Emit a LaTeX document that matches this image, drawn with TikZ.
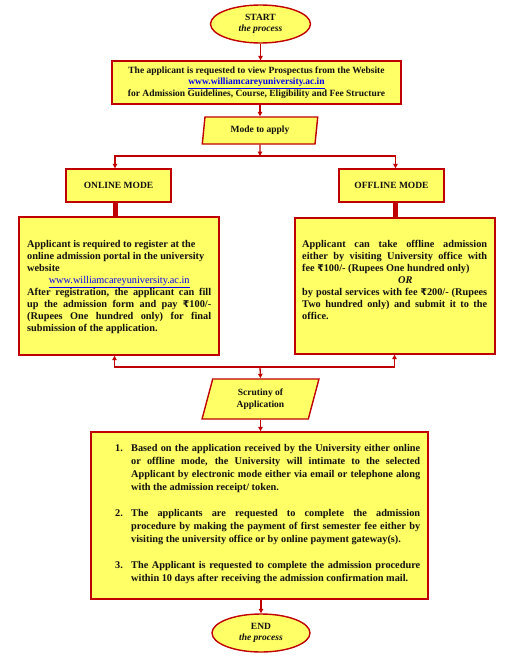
\documentclass[tikz,border=0pt]{standalone}
\usepackage{fontspec}
\setmainfont{Liberation Serif}
\newfontfamily\rupeefont{DejaVu Sans}
\usetikzlibrary{shapes.geometric,arrows.meta}
\definecolor{boxred}{HTML}{C00000}
\definecolor{boxyellow}{HTML}{FFFF66}
\definecolor{linkblue}{HTML}{0000EE}
\definecolor{inkc}{HTML}{111111}
\newcommand{\weblink}[1]{\textcolor{linkblue}{\underline{#1}}}
\newcommand{\rupee}{{\rupeefont\fontsize{9.3}{12}\selectfont ₹}}
\begin{document}
\begin{tikzpicture}[x=1pt,y=-1pt,
  shapebox/.style={draw=boxred, fill=boxyellow, line width=1.4pt, inner sep=0pt, text=inkc},
  lbl/.style={font=\fontsize{9.5}{11.5}\selectfont\bfseries, align=center},
  bodytext/.style={font=\fontsize{10.3}{12}\selectfont\bfseries, inner sep=0pt, anchor=north west, align=justify, text=inkc},
  para/.style={shapebox, shape=trapezium, trapezium stretches=true},
  flow/.style={draw=boxred, line width=1.3pt},
  arr/.style={flow, -{Triangle[length=4.5pt,width=4.5pt]}},
  thickconn/.style={draw=boxred, line width=5pt}
]
\useasboundingbox (0,0) rectangle (504,672);

% nodes
\node[shapebox, ellipse, minimum width=100, minimum height=38, lbl] (start) at (260.5,24) {START\\\textit{the process}};
\node[shapebox, rectangle, minimum width=289, minimum height=43, lbl] (box1) at (256.5,82.5)
  {The applicant is requested to view Prospectus from the Website\\
   \weblink{www.williamcareyuniversity.ac.in}\\
   for Admission Guidelines, Course, Eligibility and Fee Structure};
\node[para, trapezium left angle=80.5, trapezium right angle=99.5, minimum width=116, minimum height=27, lbl] (mode) at (260,130.5) {Mode to apply};

\node[shapebox, rectangle, minimum width=105, minimum height=33, lbl] (onmode) at (118.5,185.5) {ONLINE MODE};
\node[shapebox, rectangle, minimum width=105, minimum height=33, lbl] (offmode) at (391.5,185.5) {OFFLINE MODE};

\node[shapebox, rectangle, minimum width=200, minimum height=138] (onbox) at (119,286) {};
\node[shapebox, rectangle, minimum width=200, minimum height=136] (offbox) at (395,286) {};

\node[bodytext, text width=184] (ontext) at (27,240)
  {Applicant is required to register at the\newline
   online admission portal in the university\newline
   website\newline
   \null\hfil{\mdseries\weblink{www.williamcareyuniversity.ac.in}}\newline
   After registration, the applicant can fill\linebreak
   up the admission form and pay \rupee100/-\linebreak
   (Rupees One hundred only) for final\linebreak
   submission of the application.};

\node[bodytext, text width=185] (offtext) at (302,240)
  {Applicant can take offline admission\linebreak
   either by visiting University office with\linebreak
   fee \rupee100/- (Rupees One hundred only)\newline
   \null\hspace*{96pt}\textit{OR}\newline
   by postal services with fee \rupee200/- (Rupees\linebreak
   Two hundred only) and submit it to the\linebreak
   office.};

\node[para, trapezium left angle=75.3, trapezium right angle=104.7, minimum width=117, minimum height=40, lbl] (scrut) at (260.5,399) {Scrutiny of\\Application};

\node[shapebox, rectangle, minimum width=337, minimum height=167] (bigbox) at (259.5,515.5) {};
\node[bodytext, text width=305, font=\fontsize{10.3}{13}\selectfont\bfseries] (bigtext) at (115,444.5)
  {\noindent\hangindent=16pt\hangafter=1\makebox[16pt][l]{1.}Based on the application received by the University either online\linebreak
   or offline mode, the University will intimate to the selected\linebreak
   Applicant by electronic mode either via email or telephone along\linebreak
   with the admission receipt/ token.\par\vspace{13pt}
   \noindent\hangindent=16pt\hangafter=1\makebox[16pt][l]{2.}The applicants are requested to complete the admission\linebreak
   procedure by making the payment of first semester fee either by\linebreak
   visiting the university office or by online payment gateway(s).\par\vspace{13pt}
   \noindent\hangindent=16pt\hangafter=1\makebox[16pt][l]{3.}The Applicant is requested to complete the admission procedure\linebreak
   within 10 days after receiving the admission confirmation mail.\par};

\node[shapebox, ellipse, minimum width=98, minimum height=38, lbl] (end) at (261,633) {END\\\textit{the process}};

% junctions
\coordinate (j1) at (260,156);
\coordinate (j1l) at (115,156);
\coordinate (j1r) at (395.5,156);
\coordinate (j2) at (260,367);
\coordinate (j2l) at (114.5,367);
\coordinate (j2r) at (394.5,367);

% connectors
\draw[arr] (start.south) -- (start.south |- box1.north);
\draw[arr] (box1.south -| mode.north) -- (mode.north);
\draw[arr] (mode.south) -- (j1);
\draw[arr] (j1) -- (j1l) -- (j1l |- onmode.north);
\draw[arr] (j1) -- (j1r) -- (j1r |- offmode.north);
\draw[thickconn] (j1l |- onmode.south) -- (j1l |- onbox.north);
\draw[thickconn] (j1r |- offmode.south) -- (j1r |- offbox.north);
\draw[arr] (j2) -- (j2l) -- (j2l |- onbox.south);
\draw[arr] (j2) -- (j2r) -- (j2r |- offbox.south);
\draw[arr] (j2) -- (scrut.north);
\draw[arr] (scrut.south) -- (scrut.south |- bigbox.north);
\draw[arr] (bigbox.south -| end.north) -- (end.north);
\end{tikzpicture}
\end{document}
